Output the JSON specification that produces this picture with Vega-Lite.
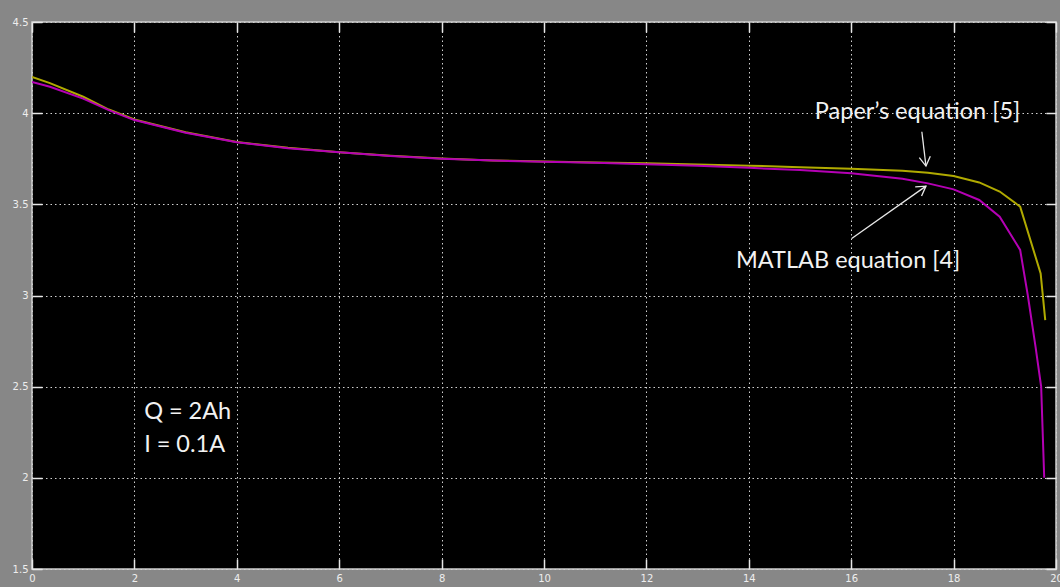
{
  "$schema": "https://vega.github.io/schema/vega-lite/v6.json",
  "width": 1024,
  "height": 547,
  "autosize": {"type": "none"},
  "padding": {"left": 32, "top": 22, "right": 4, "bottom": 18},
  "background": "#878787",
  "config": {
    "view": {"fill": "#000000", "stroke": "#d0d0d0", "strokeWidth": 1.5},
    "axis": {"labelFont": "DejaVu Sans", "labelFontSize": 10, "labelColor": "#eeeeee", "titleColor": "#eeeeee"}
  },
  "datasets": {
    "curves": [
      {"x": 0, "v": 4.198, "series": "Paper's equation [5]"},
      {"x": 0.35, "v": 4.165, "series": "Paper's equation [5]"},
      {"x": 1, "v": 4.09, "series": "Paper's equation [5]"},
      {"x": 1.5, "v": 4.02, "series": "Paper's equation [5]"},
      {"x": 2, "v": 3.965, "series": "Paper's equation [5]"},
      {"x": 3, "v": 3.895, "series": "Paper's equation [5]"},
      {"x": 4, "v": 3.842, "series": "Paper's equation [5]"},
      {"x": 5, "v": 3.81, "series": "Paper's equation [5]"},
      {"x": 6, "v": 3.786, "series": "Paper's equation [5]"},
      {"x": 7, "v": 3.766, "series": "Paper's equation [5]"},
      {"x": 8, "v": 3.751, "series": "Paper's equation [5]"},
      {"x": 9, "v": 3.741, "series": "Paper's equation [5]"},
      {"x": 10, "v": 3.735, "series": "Paper's equation [5]"},
      {"x": 11, "v": 3.73, "series": "Paper's equation [5]"},
      {"x": 12, "v": 3.725, "series": "Paper's equation [5]"},
      {"x": 13, "v": 3.718, "series": "Paper's equation [5]"},
      {"x": 14, "v": 3.712, "series": "Paper's equation [5]"},
      {"x": 15, "v": 3.704, "series": "Paper's equation [5]"},
      {"x": 16, "v": 3.695, "series": "Paper's equation [5]"},
      {"x": 17, "v": 3.684, "series": "Paper's equation [5]"},
      {"x": 17.5, "v": 3.673, "series": "Paper's equation [5]"},
      {"x": 18, "v": 3.655, "series": "Paper's equation [5]"},
      {"x": 18.5, "v": 3.62, "series": "Paper's equation [5]"},
      {"x": 18.9, "v": 3.57, "series": "Paper's equation [5]"},
      {"x": 19.3, "v": 3.487, "series": "Paper's equation [5]"},
      {"x": 19.7, "v": 3.121, "series": "Paper's equation [5]"},
      {"x": 19.79, "v": 2.865, "series": "Paper's equation [5]"},
      {"x": 0, "v": 4.171, "series": "MATLAB equation [4]"},
      {"x": 0.35, "v": 4.145, "series": "MATLAB equation [4]"},
      {"x": 1, "v": 4.08, "series": "MATLAB equation [4]"},
      {"x": 1.5, "v": 4.017, "series": "MATLAB equation [4]"},
      {"x": 2, "v": 3.962, "series": "MATLAB equation [4]"},
      {"x": 3, "v": 3.893, "series": "MATLAB equation [4]"},
      {"x": 4, "v": 3.84, "series": "MATLAB equation [4]"},
      {"x": 5, "v": 3.808, "series": "MATLAB equation [4]"},
      {"x": 6, "v": 3.785, "series": "MATLAB equation [4]"},
      {"x": 7, "v": 3.765, "series": "MATLAB equation [4]"},
      {"x": 8, "v": 3.75, "series": "MATLAB equation [4]"},
      {"x": 9, "v": 3.74, "series": "MATLAB equation [4]"},
      {"x": 10, "v": 3.733, "series": "MATLAB equation [4]"},
      {"x": 11, "v": 3.728, "series": "MATLAB equation [4]"},
      {"x": 12, "v": 3.72, "series": "MATLAB equation [4]"},
      {"x": 13, "v": 3.711, "series": "MATLAB equation [4]"},
      {"x": 14, "v": 3.7, "series": "MATLAB equation [4]"},
      {"x": 15, "v": 3.688, "series": "MATLAB equation [4]"},
      {"x": 16, "v": 3.67, "series": "MATLAB equation [4]"},
      {"x": 17, "v": 3.64, "series": "MATLAB equation [4]"},
      {"x": 17.5, "v": 3.615, "series": "MATLAB equation [4]"},
      {"x": 18, "v": 3.582, "series": "MATLAB equation [4]"},
      {"x": 18.5, "v": 3.524, "series": "MATLAB equation [4]"},
      {"x": 18.9, "v": 3.432, "series": "MATLAB equation [4]"},
      {"x": 19.3, "v": 3.25, "series": "MATLAB equation [4]"},
      {"x": 19.45, "v": 3.0, "series": "MATLAB equation [4]"},
      {"x": 19.6, "v": 2.72, "series": "MATLAB equation [4]"},
      {"x": 19.71, "v": 2.5, "series": "MATLAB equation [4]"},
      {"x": 19.77, "v": 2.0, "series": "MATLAB equation [4]"}
    ],
    "arrows": [
      {"id": "paper", "x": 17.38, "y": 3.898, "x2": 17.46, "y2": 3.71},
      {"id": "matlab", "x": 16.01, "y": 3.313, "x2": 17.46, "y2": 3.6}
    ],
    "notes": [
      {"label": "Paper’s equation [5]", "x": 15.29, "y": 3.968},
      {"label": "MATLAB equation [4]", "x": 13.75, "y": 3.151},
      {"label": "Q = 2Ah", "x": 2.19, "y": 2.322},
      {"label": "I = 0.1A", "x": 2.19, "y": 2.141}
    ]
  },
  "resolve": {"axis": {"x": "independent", "y": "independent"}},
  "layer": [
    {
      "data": {"name": "curves"},
      "transform": [{"filter": "datum.series === \"Paper's equation [5]\""}],
      "mark": {"type": "line", "color": "#b0aa00", "strokeWidth": 2, "clip": true},
      "encoding": {
        "x": {
          "field": "x", "type": "quantitative",
          "scale": {"domain": [0, 20], "nice": false, "zero": false},
          "axis": {
            "orient": "bottom", "title": null, "values": [0, 2, 4, 6, 8, 10, 12, 14, 16, 18, 20],
            "grid": true, "gridDash": [1.5, 3], "gridColor": "#d0d0d0", "gridWidth": 1,
            "ticks": true, "tickSize": -10, "tickColor": "#e6e6e6", "tickWidth": 1.5,
            "domain": false, "labelPadding": 14, "labelFlush": false, "labelOverlap": false
          }
        },
        "y": {
          "field": "v", "type": "quantitative",
          "scale": {"domain": [1.5, 4.5], "nice": false, "zero": false},
          "axis": {
            "orient": "left", "title": null, "values": [1.5, 2, 2.5, 3, 3.5, 4, 4.5],
            "labelExpr": "toString(datum.value)",
            "grid": true, "gridDash": [1.5, 3], "gridColor": "#d0d0d0", "gridWidth": 1,
            "ticks": true, "tickSize": -10, "tickColor": "#e6e6e6", "tickWidth": 1.5,
            "domain": false, "labelPadding": 14, "labelFlush": false, "labelOverlap": false
          }
        }
      }
    },
    {
      "data": {"name": "curves"},
      "transform": [{"filter": "datum.series === 'MATLAB equation [4]'"}],
      "mark": {"type": "line", "color": "#b400b4", "strokeWidth": 2, "clip": true},
      "encoding": {
        "x": {
          "field": "x", "type": "quantitative",
          "scale": {"domain": [0, 20], "nice": false, "zero": false},
          "axis": {
            "orient": "top", "title": null, "values": [0, 2, 4, 6, 8, 10, 12, 14, 16, 18, 20],
            "labels": false, "grid": false,
            "ticks": true, "tickSize": -10, "tickColor": "#e6e6e6", "tickWidth": 1.5, "domain": false
          }
        },
        "y": {
          "field": "v", "type": "quantitative",
          "scale": {"domain": [1.5, 4.5], "nice": false, "zero": false},
          "axis": {
            "orient": "right", "title": null, "values": [1.5, 2, 2.5, 3, 3.5, 4, 4.5],
            "labels": false, "grid": false,
            "ticks": true, "tickSize": -10, "tickColor": "#e6e6e6", "tickWidth": 1.5, "domain": false
          }
        }
      }
    },
    {
      "data": {"name": "arrows"},
      "mark": {"type": "rule", "color": "#e8e8e8", "strokeWidth": 1.3},
      "encoding": {
        "x": {"field": "x", "type": "quantitative", "axis": null},
        "y": {"field": "y", "type": "quantitative", "axis": null},
        "x2": {"field": "x2"},
        "y2": {"field": "y2"}
      }
    },
    {
      "data": {"name": "arrows"},
      "transform": [{"filter": "datum.id === 'paper'"}],
      "mark": {"type": "point", "shape": "M-0.6,1L0,0L0.6,1", "filled": false, "stroke": "#e8e8e8", "strokeWidth": 1.3, "size": 340, "angle": 173, "opacity": 1},
      "encoding": {
        "x": {"field": "x2", "type": "quantitative", "axis": null},
        "y": {"field": "y2", "type": "quantitative", "axis": null}
      }
    },
    {
      "data": {"name": "arrows"},
      "transform": [{"filter": "datum.id === 'matlab'"}],
      "mark": {"type": "point", "shape": "M-0.6,1L0,0L0.6,1", "filled": false, "stroke": "#e8e8e8", "strokeWidth": 1.3, "size": 340, "angle": 55, "opacity": 1},
      "encoding": {
        "x": {"field": "x2", "type": "quantitative", "axis": null},
        "y": {"field": "y2", "type": "quantitative", "axis": null}
      }
    },
    {
      "data": {"name": "notes"},
      "mark": {"type": "text", "align": "left", "baseline": "alphabetic", "font": "Lato", "fontSize": 23.5, "color": "#f2f2f2"},
      "encoding": {
        "x": {"field": "x", "type": "quantitative", "axis": null},
        "y": {"field": "y", "type": "quantitative", "axis": null},
        "text": {"field": "label"}
      }
    }
  ]
}
